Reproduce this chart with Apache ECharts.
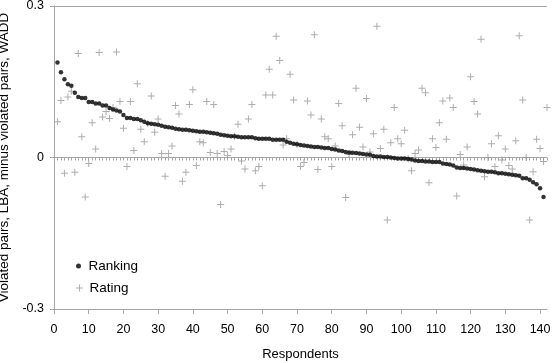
<!DOCTYPE html>
<html>
<head>
<meta charset="utf-8">
<script src="https://cdn.jsdelivr.net/npm/echarts@6/dist/echarts.min.js"></script>
<style>html,body{margin:0;padding:0;background:#fff}#c{width:552px;height:363px}</style>
</head>
<body>
<div id="c"></div>
<script>
// Ranking: violated pairs LBA minus WADD, sorted descending (respondents 1..141)
var ranking = [
0.188,0.169,0.155,0.145,0.142,0.128,0.120,0.118,0.118,0.110,
0.110,0.107,0.107,0.103,0.103,0.098,0.095,0.093,0.091,0.084,
0.078,0.078,0.076,0.076,0.074,0.071,0.068,0.067,0.066,0.065,
0.063,0.061,0.060,0.059,0.057,0.056,0.055,0.055,0.054,0.053,
0.052,0.051,0.051,0.050,0.049,0.048,0.047,0.045,0.044,0.043,
0.042,0.042,0.041,0.040,0.040,0.040,0.040,0.038,0.037,0.037,
0.037,0.037,0.035,0.035,0.035,0.035,0.031,0.029,0.027,0.026,
0.025,0.024,0.023,0.022,0.021,0.021,0.020,0.019,0.019,0.017,
0.016,0.014,0.013,0.011,0.010,0.0095,0.009,0.008,0.007,0.006,
0.0055,0.003,0.002,0.002,0.001,0.001,0.000,-0.001,-0.002,-0.002,
-0.002,-0.003,-0.004,-0.006,-0.007,-0.007,-0.008,-0.008,-0.009,-0.009,
-0.009,-0.012,-0.013,-0.014,-0.016,-0.020,-0.021,-0.021,-0.022,-0.023,
-0.024,-0.025,-0.026,-0.027,-0.028,-0.028,-0.029,-0.031,-0.031,-0.032,
-0.033,-0.034,-0.035,-0.036,-0.041,-0.041,-0.044,-0.049,-0.053,-0.061,
-0.078
];
// Rating (respondents 1..142)
var rating = [
0.071,0.113,-0.031,0.120,0.131,-0.029,0.206,0.041,-0.078,-0.012,
0.069,0.017,0.208,0.080,0.091,0.077,0.099,0.209,0.111,0.058,
-0.018,0.111,0.014,0.146,0.056,0.031,0.068,0.122,0.050,0.076,
0.008,-0.037,0.008,0.023,0.103,0.086,-0.047,-0.029,0.105,0.134,
-0.016,0.031,0.029,0.111,0.010,0.105,0.008,-0.093,0.012,0.004,
0.017,0.042,0.066,-0.007,-0.023,0.076,0.105,-0.026,-0.018,-0.056,
0.124,0.175,0.124,0.240,0.192,0.025,0.037,0.165,0.114,0.026,
-0.018,-0.010,0.112,0.084,0.243,-0.024,0.076,0.041,0.037,-0.018,
0.023,0.107,0.063,-0.079,0.006,0.045,0.137,0.060,0.021,0.117,
0.011,0.047,0.260,0.018,0.056,-0.124,0.029,0.099,0.037,0.027,
0.054,-0.002,-0.026,0.008,0.015,0.137,0.128,-0.050,0.037,0.020,
0.069,0.112,0.036,0.118,0.099,-0.076,0.006,-0.015,0.021,0.160,
0.111,0.086,0.234,-0.038,0.000,0.027,-0.018,0.043,-0.005,0.017,
-0.016,-0.023,0.033,0.241,0.114,0.000,-0.124,-0.028,0.036,0.018,
-0.008,0.099
];
var xTickValues = [0,10,20,30,40,50,60,70,80,90,100,110,120,130,140];
var yTickValues = [-0.3, 0, 0.3];
var xMax = 142;

var minorTicks = [];
for (var t = 0; t <= xMax; t++) minorTicks.push(t);

function pairs(arr){ return arr.map(function(v,i){ return [i+1, v]; }); }

var FONT = '"Liberation Sans", Arial, sans-serif';
var GRAY = '#a6a6a6';
var PLUS = 'path://M3,0H4V3H7V4H4V7H3V4H0V3H3Z';

var chart = echarts.init(document.getElementById('c'), null, {renderer:'canvas'});
chart.setOption({
  animation: false,
  backgroundColor: '#fff',
  textStyle: {fontFamily: FONT},
  grid: {left: 54, right: 5, top: 6, bottom: 54, containLabel: false, outerBoundsMode: 'none'},
  legend: [
    {data: ['Ranking'], orient: 'vertical', left: 71, top: 254, itemWidth: 10, itemHeight: 5,
     textStyle: {fontSize: 13.5, color: '#000', fontFamily: FONT}},
    {data: ['Rating'], orient: 'vertical', left: 71, top: 276, itemWidth: 10, itemHeight: 7,
     textStyle: {fontSize: 13.5, color: '#000', fontFamily: FONT}}
  ],
  xAxis: [
    {type: 'value', min: 0, max: xMax, interval: 10,
     name: 'Respondents', nameLocation: 'middle', nameGap: 39,
     nameTextStyle: {fontSize: 13, color: '#000', fontFamily: FONT},
     axisLine: {show: true, onZero: false, lineStyle: {color: GRAY}},
     axisTick: {show: true, length: 5, lineStyle: {color: GRAY}, customValues: xTickValues},
     axisLabel: {color: '#000', fontSize: 12.5, fontFamily: FONT, margin: 14, customValues: xTickValues},
     splitLine: {show: false}},
    {type: 'value', min: 0, max: xMax, position: 'bottom', gridIndex: 0,
     axisLine: {show: false},
     axisTick: {show: true, length: 3, lineStyle: {color: GRAY}, customValues: minorTicks},
     axisLabel: {show: false},
     splitLine: {show: false}}
  ],
  yAxis: {
    type: 'value', min: -0.3, max: 0.3, interval: 0.3,
    name: 'Violated pairs, LBA, minus violated pairs, WADD', nameLocation: 'middle', nameGap: 31,
    nameTextStyle: {fontSize: 13.5, color: '#000', fontFamily: FONT},
    axisLine: {show: true, lineStyle: {color: GRAY}},
    axisTick: {show: true, length: 4, lineStyle: {color: GRAY}, customValues: yTickValues},
    axisLabel: {color: '#000', fontSize: 12.5, fontFamily: FONT, margin: 10, customValues: yTickValues,
      formatter: function(v){ return String(Math.round(v*10)/10); }},
    splitLine: {show: true, lineStyle: {color: GRAY, width: 1}}
  },
  series: [
    {name: 'Ranking', type: 'scatter', xAxisIndex: 0, data: pairs(ranking), symbol: 'circle', symbolSize: 4.5,
     itemStyle: {color: '#000'}, z: 3},
    {name: 'Rating', type: 'scatter', xAxisIndex: 0, data: pairs(rating), symbol: PLUS, symbolSize: 7,
     itemStyle: {color: '#999'}, z: 2}
  ]
});
</script>
</body>
</html>
